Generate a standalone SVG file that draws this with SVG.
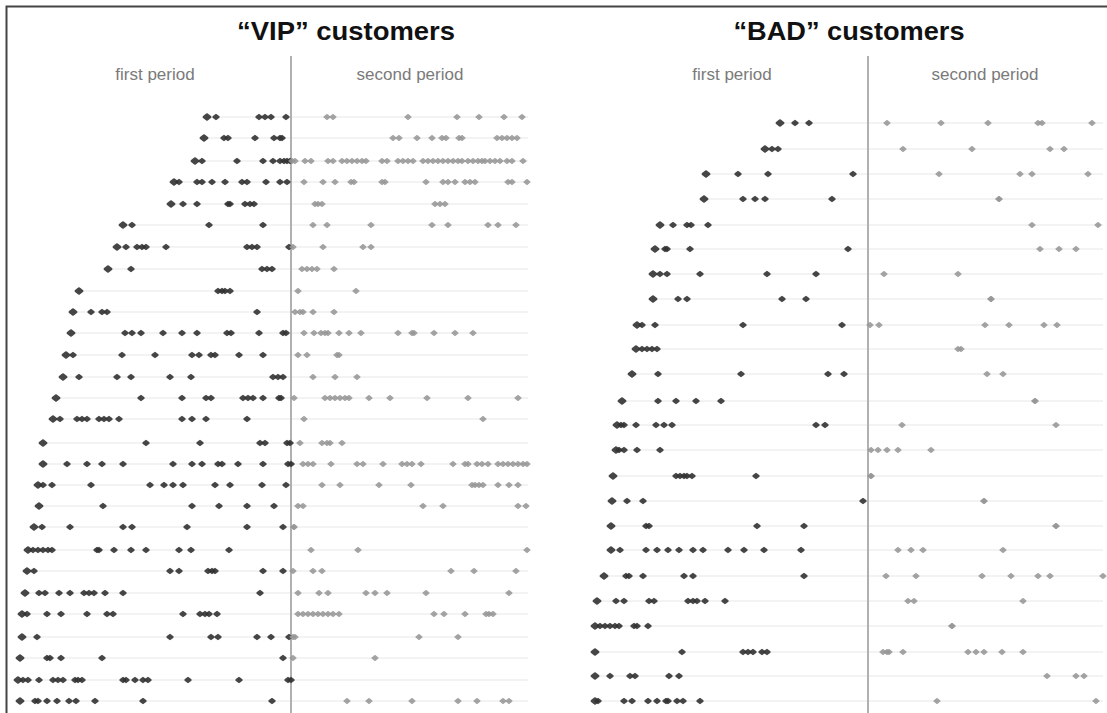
<svg xmlns="http://www.w3.org/2000/svg" width="1107" height="713" viewBox="0 0 1107 713">
<style>
.title{font-family:"Liberation Sans",Arial,sans-serif;font-weight:bold;font-size:26px;fill:#111;text-anchor:middle}
.lab{font-family:"Liberation Sans",Arial,sans-serif;font-size:17px;fill:#7a7a7a;text-anchor:middle}
.grid line{stroke:#efefef;stroke-width:1.6}
.sep{stroke:#b0b0b0;stroke-width:2}
.d{fill:none;stroke:none;marker-start:url(#mb);marker-mid:url(#md);marker-end:url(#md)}
.g{fill:none;stroke:none;marker-start:url(#mg);marker-mid:url(#mg);marker-end:url(#mg)}
.dk{fill:#333;stroke:#333;stroke-width:2.4;stroke-linejoin:round;opacity:0.9}
.gy{fill:#858585;stroke:#999;stroke-width:2.2;stroke-linejoin:round;opacity:0.88}
</style>
<defs>
<marker id="md" markerUnits="userSpaceOnUse" overflow="visible" refX="0" refY="0" markerWidth="10" markerHeight="10"><path class="dk" d="M-2.4,0 L0,-1.9 L2.4,0 L0,1.9Z"/></marker>
<marker id="mb" markerUnits="userSpaceOnUse" overflow="visible" refX="0" refY="0" markerWidth="12" markerHeight="12"><path class="dk" d="M-3.2,0 L0,-2.6 L3.2,0 L0,2.6Z"/></marker>
<marker id="mg" markerUnits="userSpaceOnUse" overflow="visible" refX="0" refY="0" markerWidth="10" markerHeight="10"><path class="gy" d="M-2.4,0 L0,-1.9 L2.4,0 L0,1.9Z"/></marker>
</defs>
<rect width="1107" height="713" fill="#fff"/>
<path d="M6.5,713 V6.5 H1107" fill="none" stroke="#444" stroke-width="2"/>

<g id="titles">
<text class="title" x="346" y="40" textLength="218" lengthAdjust="spacingAndGlyphs">“VIP” customers</text>
<text class="title" x="849" y="40" textLength="231" lengthAdjust="spacingAndGlyphs">“BAD” customers</text>
<text class="lab" x="155" y="80">first period</text>
<text class="lab" x="410" y="80">second period</text>
<text class="lab" x="732" y="80">first period</text>
<text class="lab" x="985" y="80">second period</text>
</g>

<g id="vip-grid" class="grid">
<line x1="207" y1="117" x2="528" y2="117"/><line x1="204" y1="138" x2="528" y2="138"/><line x1="195" y1="161" x2="528" y2="161"/><line x1="174" y1="182" x2="528" y2="182"/><line x1="171" y1="204" x2="528" y2="204"/><line x1="123" y1="225" x2="528" y2="225"/><line x1="117" y1="247" x2="528" y2="247"/><line x1="108" y1="269" x2="528" y2="269"/><line x1="79" y1="291" x2="528" y2="291"/><line x1="73" y1="312" x2="528" y2="312"/><line x1="71" y1="333" x2="528" y2="333"/><line x1="66" y1="355" x2="528" y2="355"/><line x1="63" y1="377" x2="528" y2="377"/><line x1="56" y1="398" x2="528" y2="398"/><line x1="53" y1="419" x2="528" y2="419"/><line x1="43" y1="443" x2="528" y2="443"/><line x1="43" y1="464" x2="528" y2="464"/><line x1="38" y1="485" x2="528" y2="485"/><line x1="39" y1="506" x2="528" y2="506"/><line x1="34" y1="527" x2="528" y2="527"/><line x1="28" y1="550" x2="528" y2="550"/><line x1="27" y1="571" x2="528" y2="571"/><line x1="25" y1="593" x2="528" y2="593"/><line x1="22" y1="614" x2="528" y2="614"/><line x1="22" y1="637" x2="528" y2="637"/><line x1="20" y1="658" x2="528" y2="658"/><line x1="18" y1="680" x2="528" y2="680"/><line x1="20" y1="701" x2="528" y2="701"/>
</g>
<g id="bad-grid" class="grid">
<line x1="780" y1="123" x2="1103" y2="123"/><line x1="765" y1="149" x2="1103" y2="149"/><line x1="706" y1="174" x2="1103" y2="174"/><line x1="704" y1="199" x2="1103" y2="199"/><line x1="660" y1="225" x2="1103" y2="225"/><line x1="655" y1="249" x2="1103" y2="249"/><line x1="653" y1="274" x2="1103" y2="274"/><line x1="653" y1="299" x2="1103" y2="299"/><line x1="637" y1="325" x2="1103" y2="325"/><line x1="636" y1="349" x2="1103" y2="349"/><line x1="632" y1="374" x2="1103" y2="374"/><line x1="622" y1="401" x2="1103" y2="401"/><line x1="617" y1="425" x2="1103" y2="425"/><line x1="616" y1="450" x2="1103" y2="450"/><line x1="613" y1="476" x2="1103" y2="476"/><line x1="612" y1="501" x2="1103" y2="501"/><line x1="611" y1="526" x2="1103" y2="526"/><line x1="611" y1="550" x2="1103" y2="550"/><line x1="604" y1="576" x2="1103" y2="576"/><line x1="597" y1="601" x2="1103" y2="601"/><line x1="595" y1="626" x2="1103" y2="626"/><line x1="595" y1="652" x2="1103" y2="652"/><line x1="595" y1="676" x2="1103" y2="676"/><line x1="595" y1="701" x2="1103" y2="701"/>
</g>

<line id="vip-divider" class="sep" x1="291" y1="56" x2="291" y2="713"/>
<line id="bad-divider" class="sep" x1="868" y1="56" x2="868" y2="713"/>

<g id="vip-dots">
<polyline class="d" points="207,117 216,117 259,117 265,117 271,117 286,117"/>
<polyline class="g" points="327,117 333,117 408,117 457,117 479,117 504,117 522,117"/>
<polyline class="d" points="204,138 224,138 228,138 255,138 274,138 280,138 282,138"/>
<polyline class="g" points="393,138 399,138 417,138 432,138 442,138 446,138 459,138 462,138 497,138 502,138 507,138 512,138 517,138"/>
<polyline class="d" points="195,161 202,161 237,161 263,161 273,161 280,161 284,161 287,161 290,161"/>
<polyline class="g" points="292,161 295,161 305,161 311,161 328,161 333,161 342,161 347,161 352,161 357,161 362,161 366,161 382,161 387,161 398,161 403,161 408,161 413,161 423,161 428,161 433,161 438,161 443,161 448,161 453,161 458,161 462,161 468,161 473,161 478,161 482,161 485,161 490,161 495,161 500,161 507,161 512,161 523,161"/>
<polyline class="d" points="174,182 179,182 197,182 202,182 212,182 225,182 242,182 247,182 266,182 280,182 287,182"/>
<polyline class="g" points="304,182 323,182 335,182 351,182 354,182 382,182 385,182 426,182 443,182 448,182 455,182 465,182 470,182 475,182 508,182 512,182 527,182"/>
<polyline class="d" points="171,204 183,204 197,204 228,204 230,204 245,204 250,204 254,204"/>
<polyline class="g" points="315,204 318,204 322,204 435,204 440,204 445,204"/>
<polyline class="d" points="123,225 132,225 209,225 263,225"/>
<polyline class="g" points="313,225 327,225 371,225 432,225 448,225 488,225 498,225 516,225"/>
<polyline class="d" points="117,247 126,247 137,247 142,247 146,247 166,247 247,247 252,247 257,247 289,247"/>
<polyline class="g" points="293,247 323,247 363,247 371,247"/>
<polyline class="d" points="108,269 131,269 262,269 267,269 272,269"/>
<polyline class="g" points="302,269 307,269 312,269 317,269 334,269"/>
<polyline class="d" points="79,291 218,291 222,291 225,291 230,291"/>
<polyline class="g" points="298,291 356,291"/>
<polyline class="d" points="73,312 91,312 102,312 107,312 257,312"/>
<polyline class="g" points="295,312 300,312 303,312 313,312 334,312"/>
<polyline class="d" points="71,333 125,333 132,333 141,333 163,333 182,333 197,333 227,333 231,333 259,333 283,333 286,333"/>
<polyline class="g" points="304,333 314,333 321,333 325,333 328,333 339,333 349,333 361,333 398,333 412,333 414,333 434,333 455,333 473,333"/>
<polyline class="d" points="66,355 73,355 122,355 155,355 192,355 199,355 211,355 215,355 239,355 263,355"/>
<polyline class="g" points="298,355 307,355 337,355 339,355"/>
<polyline class="d" points="63,377 79,377 117,377 131,377 170,377 191,377 273,377 278,377 283,377"/>
<polyline class="g" points="313,377 335,377 357,377"/>
<polyline class="d" points="56,398 141,398 182,398 206,398 211,398 243,398 248,398 253,398 263,398 279,398 281,398"/>
<polyline class="g" points="294,398 325,398 330,398 335,398 340,398 345,398 349,398 369,398 390,398 427,398 468,398 518,398"/>
<polyline class="d" points="53,419 60,419 77,419 82,419 87,419 99,419 104,419 109,419 119,419 182,419 192,419 206,419 247,419"/>
<polyline class="g" points="304,419 483,419"/>
<polyline class="d" points="43,443 146,443 200,443 260,443 265,443 287,443 290,443"/>
<polyline class="g" points="300,443 322,443 327,443 330,443 342,443"/>
<polyline class="d" points="43,464 67,464 87,464 102,464 123,464 173,464 192,464 202,464 218,464 222,464 238,464 263,464 288,464 291,464"/>
<polyline class="g" points="303,464 308,464 313,464 331,464 357,464 363,464 383,464 402,464 407,464 412,464 421,464 453,464 465,464 468,464 477,464 482,464 488,464 498,464 503,464 508,464 513,464 518,464 523,464 527,464"/>
<polyline class="d" points="38,485 43,485 52,485 91,485 150,485 164,485 173,485 183,485 215,485 230,485 262,485 286,485"/>
<polyline class="g" points="322,485 340,485 379,485 411,485 472,485 475,485 479,485 483,485 498,485 509,485 518,485"/>
<polyline class="d" points="39,506 103,506 192,506 219,506 247,506 274,506"/>
<polyline class="g" points="298,506 303,506 423,506 443,506 518,506 526,506"/>
<polyline class="d" points="34,527 42,527 70,527 123,527 132,527 187,527 247,527 283,527"/>
<polyline class="g" points="294,527 294,527"/>
<polyline class="d" points="28,550 33,550 38,550 43,550 48,550 52,550 97,550 99,550 114,550 131,550 146,550 179,550 191,550 229,550"/>
<polyline class="g" points="311,550 358,550 527,550"/>
<polyline class="d" points="27,571 34,571 170,571 179,571 208,571 212,571 215,571 263,571 283,571"/>
<polyline class="g" points="293,571 313,571 322,571 451,571 474,571 516,571"/>
<polyline class="d" points="25,593 39,593 45,593 59,593 70,593 84,593 89,593 94,593 105,593 123,593 260,593"/>
<polyline class="g" points="298,593 319,593 328,593 366,593 375,593 387,593 426,593 509,593"/>
<polyline class="d" points="22,614 27,614 47,614 61,614 87,614 107,614 113,614 183,614 200,614 205,614 209,614 217,614"/>
<polyline class="g" points="298,614 303,614 308,614 313,614 318,614 323,614 328,614 333,614 339,614 434,614 444,614 465,614 486,614 489,614 493,614"/>
<polyline class="d" points="22,637 37,637 170,637 211,637 218,637 257,637 271,637 289,637"/>
<polyline class="g" points="293,637 295,637 419,637 458,637"/>
<polyline class="d" points="20,658 47,658 50,658 61,658 102,658 283,658"/>
<polyline class="g" points="293,658 375,658"/>
<polyline class="d" points="18,680 23,680 28,680 39,680 53,680 58,680 63,680 75,680 78,680 82,680 123,680 126,680 135,680 143,680 148,680 188,680 239,680 288,680 291,680"/>
<polyline class="d" points="20,701 35,701 38,701 47,701 57,701 69,701 76,701 95,701 143,701 272,701"/>
<polyline class="g" points="347,701 369,701 412,701 458,701 477,701 503,701 509,701"/>
</g>

<g id="bad-dots">
<polyline class="d" points="780,123 795,123 809,123"/>
<polyline class="g" points="887,123 941,123 988,123 1038,123 1042,123 1092,123"/>
<polyline class="d" points="765,149 772,149 778,149"/>
<polyline class="g" points="903,149 972,149 1050,149 1064,149"/>
<polyline class="d" points="706,174 738,174 768,174 853,174"/>
<polyline class="g" points="939,174 1020,174 1032,174 1088,174"/>
<polyline class="d" points="704,199 743,199 755,199 765,199 832,199"/>
<polyline class="g" points="999,199 999,199"/>
<polyline class="d" points="660,225 673,225 687,225 691,225 708,225"/>
<polyline class="g" points="1032,225 1098,225"/>
<polyline class="d" points="655,249 665,249 667,249 690,249 848,249"/>
<polyline class="g" points="1040,249 1059,249 1076,249"/>
<polyline class="d" points="653,274 660,274 667,274 700,274 767,274 816,274"/>
<polyline class="g" points="884,274 958,274"/>
<polyline class="d" points="653,299 678,299 687,299 782,299 806,299"/>
<polyline class="g" points="991,299 991,299"/>
<polyline class="d" points="637,325 642,325 655,325 743,325 842,325"/>
<polyline class="g" points="870,325 879,325 985,325 1009,325 1044,325 1057,325"/>
<polyline class="d" points="636,349 642,349 647,349 652,349 657,349"/>
<polyline class="g" points="958,349 961,349"/>
<polyline class="d" points="632,374 658,374 741,374 828,374 844,374"/>
<polyline class="g" points="987,374 1003,374"/>
<polyline class="d" points="622,401 658,401 676,401 696,401 721,401"/>
<polyline class="g" points="1035,401 1035,401"/>
<polyline class="d" points="617,425 621,425 624,425 636,425 656,425 664,425 672,425 816,425 825,425"/>
<polyline class="g" points="902,425 1056,425"/>
<polyline class="d" points="616,450 619,450 624,450 637,450 660,450"/>
<polyline class="g" points="871,450 878,450 887,450 898,450 931,450"/>
<polyline class="d" points="613,476 676,476 680,476 684,476 687,476 692,476 756,476"/>
<polyline class="g" points="871,476 871,476"/>
<polyline class="d" points="612,501 627,501 643,501 863,501"/>
<polyline class="g" points="984,501 984,501"/>
<polyline class="d" points="611,526 646,526 649,526 757,526 804,526"/>
<polyline class="g" points="1056,526 1056,526"/>
<polyline class="d" points="611,550 620,550 646,550 657,550 668,550 679,550 693,550 703,550 728,550 744,550 764,550 801,550"/>
<polyline class="g" points="898,550 911,550 923,550 1003,550"/>
<polyline class="d" points="604,576 626,576 629,576 643,576 684,576 693,576 804,576"/>
<polyline class="g" points="886,576 916,576 982,576 1011,576 1038,576 1050,576 1103,576"/>
<polyline class="d" points="597,601 616,601 624,601 649,601 654,601 688,601 693,601 697,601 705,601 725,601"/>
<polyline class="g" points="908,601 914,601 1023,601"/>
<polyline class="d" points="595,626 600,626 605,626 610,626 615,626 619,626 634,626 637,626 648,626"/>
<polyline class="g" points="952,626 952,626"/>
<polyline class="d" points="595,652 682,652 743,652 748,652 753,652 762,652 767,652"/>
<polyline class="g" points="883,652 887,652 889,652 903,652 968,652 976,652 984,652 1002,652 1023,652"/>
<polyline class="d" points="595,676 610,676 630,676 635,676 669,676 679,676"/>
<polyline class="g" points="1047,676 1076,676 1084,676"/>
<polyline class="d" points="595,701 598,701 624,701 632,701 648,701 657,701 666,701 668,701 677,701 683,701 700,701"/>
<polyline class="g" points="937,701 1096,701"/>
</g>
</svg>
